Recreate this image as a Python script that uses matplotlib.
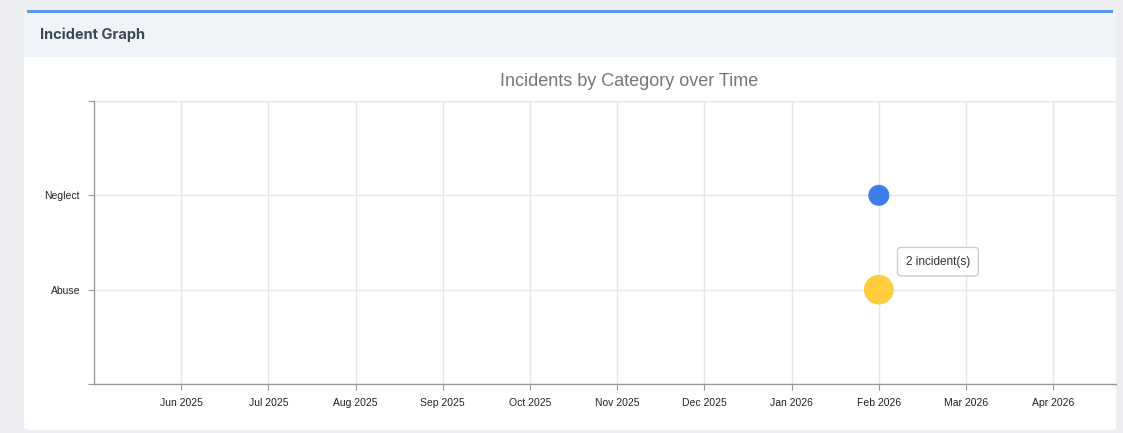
import matplotlib.pyplot as plt
from matplotlib.patches import Rectangle, FancyBboxPatch

W, H = 1123, 433

# months on the x axis, counted from May 2025
months = ["May 2025", "Jun 2025", "Jul 2025", "Aug 2025", "Sep 2025", "Oct 2025",
          "Nov 2025", "Dec 2025", "Jan 2026", "Feb 2026", "Mar 2026", "Apr 2026"]
categories = ["Abuse", "Neglect"]

# incidents: month, category, count
incident_months = ["Feb 2026", "Feb 2026"]
incident_categories = ["Neglect", "Abuse"]
incident_counts = [1, 2]
incident_colors = ["#3d7eed", "#ffcd3c"]


def fx(px):
    return px / W


def fy(py):
    return 1 - py / H


plt.rcParams['font.family'] = ['Liberation Sans', 'DejaVu Sans']

fig = plt.figure(figsize=(W / 100, H / 100), dpi=100)
fig.patch.set_facecolor("#eceef1")

# card
card = FancyBboxPatch((fx(24), fy(430)), fx(1116) - fx(24), fy(11) - fy(430),
                      boxstyle="round,pad=0,rounding_size=0.006",
                      transform=fig.transFigure, facecolor="white",
                      edgecolor="none", zorder=0)
fig.add_artist(card)
fig.add_artist(Rectangle((fx(24), fy(57)), fx(1116) - fx(24), fy(13) - fy(57),
                         transform=fig.transFigure, facecolor="#f0f4f9",
                         edgecolor="none", zorder=0))
fig.add_artist(Rectangle((fx(27), fy(13)), fx(1113) - fx(27), fy(10) - fy(13),
                         transform=fig.transFigure, facecolor="#5898ee",
                         edgecolor="none", zorder=0))
fig.text(fx(40), fy(35), "Incident Graph", fontsize=10.5, fontweight="bold",
         color="#3b4757", va="center", ha="left", family=["Inter", "DejaVu Sans"])

ax = fig.add_axes([fx(94), fy(384), fx(1116) - fx(94), fy(101) - fy(384)])
ax.set_facecolor("white")

x = [months.index(m) for m in incident_months]
y = [categories.index(c) for c in incident_categories]
sizes = [229 * c for c in incident_counts]
ax.scatter(x, y, s=sizes, c=incident_colors, edgecolors="none", zorder=3)

ax.set_xlim(0, 11.72)
ax.set_ylim(-1, 2)
ax.set_xticks(range(1, len(months)))
ax.set_xticklabels(months[1:], fontsize=7.5, color="#222222")
ax.set_yticks([-1, 0, 1, 2])
ax.set_yticklabels(["", "Abuse", "Neglect", ""], fontsize=7.5, color="#222222")
ax.tick_params(axis="both", length=4, color="#999999", pad=6)
ax.grid(True, color="#e6e6e6", linewidth=1)
ax.set_axisbelow(True)
for s in ["top", "right"]:
    ax.spines[s].set_visible(False)
for s in ["left", "bottom"]:
    ax.spines[s].set_color("#999999")
    ax.spines[s].set_linewidth(1)
ax.axhline(2, color="#e6e6e6", linewidth=1, zorder=0)

fig.text(fx(629.5), fy(81), "Incidents by Category over Time", fontsize=13,
         color="#777777", ha="center", va="center")

# tooltip for the biggest bubble
big = incident_counts.index(max(incident_counts))
ax.annotate(f"{incident_counts[big]} incident(s)", (x[big], y[big]),
            xytext=(27, 28), textcoords="offset pixels", ha="left", va="center",
            fontsize=8.5, color="#333333", zorder=5,
            bbox=dict(boxstyle="round,pad=0.7,rounding_size=0.3",
                      facecolor="white", edgecolor="#cccccc", linewidth=1))

fig.savefig("out.png", dpi=100)
